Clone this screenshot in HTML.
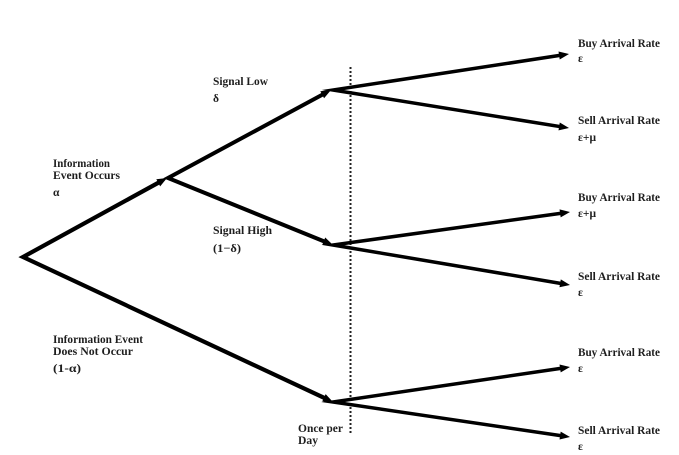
<!DOCTYPE html>
<html>
<head>
<meta charset="utf-8">
<style>
  html, body { margin: 0; padding: 0; background: #ffffff; }
  body { width: 679px; height: 455px; overflow: hidden; }
  svg { display: block; }
  text { font-family: "Liberation Serif", "DejaVu Serif", serif; font-size: 11.5px; font-weight: bold; fill: #1e1e1e; }
</style>
</head>
<body>
<svg width="679" height="455" viewBox="0 0 679 455" xmlns="http://www.w3.org/2000/svg">
  <!-- dotted vertical line -->
  <line x1="350.5" y1="67" x2="350.5" y2="434" stroke="#222" stroke-width="2" stroke-dasharray="2,2"/>

  <!-- first level: root -->
  <polyline points="161.74,180.89 23,257 327.56,399.46" fill="none" stroke="#000" stroke-width="4.2" stroke-linejoin="miter" stroke-miterlimit="10"/>
  <polygon points="167,178 160.16,186.32 156.31,179.30" fill="#000"/>
  <polygon points="333,402 322.25,401.39 325.64,394.14" fill="#000"/>

  <!-- second level from info node -->
  <polyline points="325.71,92.84 168,178 327.44,242.75" fill="none" stroke="#000" stroke-width="4" stroke-linejoin="miter" stroke-miterlimit="10"/>
  <polygon points="331,90 324.08,98.25 320.30,91.20" fill="#000"/>
  <polygon points="333,245 322.23,244.97 325.22,237.55" fill="#000"/>

  <!-- right branches: signal low -->
  <polyline points="563.07,54.90 333,90 563.08,127.05" fill="none" stroke="#000" stroke-width="3.5" stroke-linejoin="miter" stroke-miterlimit="12"/>
  <polygon points="569,54 559.72,59.46 558.51,51.55" fill="#000"/>
  <polygon points="569,128 558.49,130.36 559.76,122.46" fill="#000"/>

  <!-- right branches: signal high -->
  <polyline points="564.06,212.83 333,245 564.08,284.00" fill="none" stroke="#000" stroke-width="3.5" stroke-linejoin="miter" stroke-miterlimit="12"/>
  <polygon points="570,212 560.65,217.34 559.55,209.42" fill="#000"/>
  <polygon points="570,285 559.47,287.28 560.81,279.40" fill="#000"/>

  <!-- right branches: no event -->
  <polyline points="564.06,367.88 333,402 564.06,436.12" fill="none" stroke="#000" stroke-width="3.5" stroke-linejoin="miter" stroke-miterlimit="12"/>
  <polygon points="570,367 560.69,372.42 559.52,364.50" fill="#000"/>
  <polygon points="570,437 559.52,439.50 560.69,431.58" fill="#000"/>

  <!-- left labels -->
  <text x="53" y="167" textLength="57" lengthAdjust="spacingAndGlyphs">Information</text>
  <text x="53" y="179" textLength="67" lengthAdjust="spacingAndGlyphs">Event Occurs</text>
  <text x="53" y="196" font-size="13">α</text>

  <text x="213" y="85" textLength="55" lengthAdjust="spacingAndGlyphs">Signal Low</text>
  <text x="213" y="102" font-size="12">δ</text>

  <text x="213" y="234" textLength="59" lengthAdjust="spacingAndGlyphs">Signal High</text>
  <text x="213" y="252" textLength="28" lengthAdjust="spacingAndGlyphs">(1−δ)</text>

  <text x="53" y="343" textLength="90" lengthAdjust="spacingAndGlyphs">Information Event</text>
  <text x="53" y="355" textLength="80" lengthAdjust="spacingAndGlyphs">Does Not Occur</text>
  <text x="53" y="372" textLength="28" lengthAdjust="spacingAndGlyphs">(1-α)</text>

  <text x="298" y="432" textLength="45" lengthAdjust="spacingAndGlyphs">Once per</text>
  <text x="298" y="444" textLength="20" lengthAdjust="spacingAndGlyphs">Day</text>

  <!-- right labels -->
  <text x="578" y="47" textLength="82" lengthAdjust="spacingAndGlyphs">Buy Arrival Rate</text>
  <text x="578" y="62">ε</text>
  <text x="578" y="124" textLength="82" lengthAdjust="spacingAndGlyphs">Sell Arrival Rate</text>
  <text x="578" y="141">ε+μ</text>

  <text x="578" y="201" textLength="82" lengthAdjust="spacingAndGlyphs">Buy Arrival Rate</text>
  <text x="578" y="217">ε+μ</text>
  <text x="578" y="280" textLength="82" lengthAdjust="spacingAndGlyphs">Sell Arrival Rate</text>
  <text x="578" y="296">ε</text>

  <text x="578" y="356" textLength="82" lengthAdjust="spacingAndGlyphs">Buy Arrival Rate</text>
  <text x="578" y="372">ε</text>
  <text x="578" y="434" textLength="82" lengthAdjust="spacingAndGlyphs">Sell Arrival Rate</text>
  <text x="578" y="450">ε</text>
</svg>
</body>
</html>
